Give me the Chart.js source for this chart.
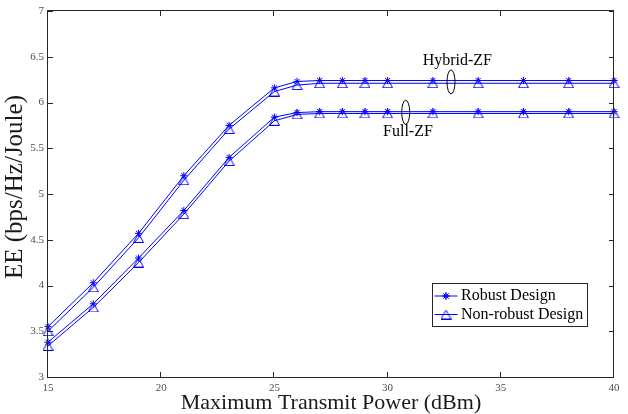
<!DOCTYPE html>
<html><head><meta charset="utf-8">
<script src="https://cdn.jsdelivr.net/npm/chart.js@4/dist/chart.umd.min.js"></script>
<style>html,body{margin:0;padding:0;background:#fff;overflow:hidden}#wrap{width:628px;height:414px}</style>
</head><body><div id="wrap"><canvas id="c" width="628" height="414"></canvas></div>
<script>
// ---- data ----
const power = [15, 17, 19, 21, 23, 25, 26, 27, 28, 29, 30, 32, 34, 36, 38, 40];
const hybridRobust    = [3.55, 4.03, 4.57, 5.20, 5.75, 6.16, 6.23, 6.24, 6.24, 6.24, 6.24, 6.24, 6.24, 6.24, 6.24, 6.24];
const hybridNonRobust = [3.50, 3.98, 4.52, 5.15, 5.71, 6.12, 6.19, 6.21, 6.21, 6.21, 6.21, 6.21, 6.21, 6.21, 6.21, 6.21];
const fullRobust      = [3.38, 3.80, 4.30, 4.82, 5.40, 5.84, 5.89, 5.90, 5.90, 5.90, 5.90, 5.90, 5.90, 5.90, 5.90, 5.90];
const fullNonRobust   = [3.34, 3.76, 4.25, 4.78, 5.36, 5.80, 5.87, 5.88, 5.88, 5.88, 5.88, 5.88, 5.88, 5.88, 5.88, 5.88];
const seriesLabels = ['Robust Design', 'Non-robust Design'];
const groupLabels = ['Hybrid-ZF', 'Full-ZF'];
const xTickValues = [15, 20, 25, 30, 35, 40];
const xTickLabels = ['15', '20', '25', '30', '35', '40'];
const yTickValues = [3, 3.5, 4, 4.5, 5, 5.5, 6, 6.5, 7];
const yTickLabels = ['3', '3.5', '4', '4.5', '5', '5.5', '6', '6.5', '7'];
const xTitle = 'Maximum Transmit Power (dBm)';
const yTitle = 'EE (bps/Hz/Joule)';

// ---- styles ----
const BLUE = '#0000ff';
const AXIS = '#262626';
const SERIF = '"Liberation Serif", "Times New Roman", serif';

function makeTriangle(w, h, color) {
  const c = document.createElement('canvas');
  c.width = w; c.height = h;
  const g = c.getContext('2d');
  g.strokeStyle = color; g.lineWidth = 1;
  g.beginPath();
  g.moveTo(w / 2, 0.5);
  g.lineTo(w - 0.5, h - 0.5);
  g.lineTo(0.5, h - 0.5);
  g.closePath();
  g.stroke();
  return c;
}
const triImg = makeTriangle(11, 10, BLUE);

function pts(arr) { return power.map((x, i) => ({ x: x, y: arr[i] })); }

function ds(label, arr, robust) {
  return {
    label: label,
    data: pts(arr),
    borderColor: BLUE,
    borderWidth: 1,
    backgroundColor: 'transparent',
    pointStyle: robust ? 'star' : triImg,
    pointRadius: robust ? 3.6 : 5,
    pointHoverRadius: robust ? 3.6 : 5,
    pointBorderColor: BLUE,
    pointBackgroundColor: 'transparent',
    pointBorderWidth: 1,
    tension: 0,
    fill: false,
    clip: false
  };
}

const framePlugin = {
  id: 'frame',
  afterDraw(chart) {
    const ctx = chart.ctx;
    const a = chart.chartArea;
    const xs = chart.scales.x, ys = chart.scales.y;
    ctx.save();
    // box
    ctx.strokeStyle = AXIS; ctx.lineWidth = 1;
    ctx.strokeRect(a.left - 0.5, a.top - 0.5, a.right - a.left, a.bottom - a.top + 1);
    // inward ticks
    ctx.beginPath();
    ys.ticks.forEach(t => {
      const py = Math.round(ys.getPixelForValue(t.value)) + 0.5;
      ctx.moveTo(a.left, py); ctx.lineTo(a.left + 5, py);
      ctx.moveTo(a.right, py); ctx.lineTo(a.right - 5, py);
    });
    xs.ticks.forEach(t => {
      const px = Math.round(xs.getPixelForValue(t.value)) - 0.5;
      ctx.moveTo(px, a.bottom); ctx.lineTo(px, a.bottom - 5);
      ctx.moveTo(px, a.top); ctx.lineTo(px, a.top + 5);
    });
    ctx.stroke();

    // y title
    ctx.fillStyle = '#1a1a1a';
    ctx.font = '25px ' + SERIF;
    ctx.textAlign = 'center'; ctx.textBaseline = 'middle';
    ctx.save();
    ctx.translate(15, (a.top + a.bottom) / 2 - 7);
    ctx.rotate(-Math.PI / 2);
    ctx.fillText(yTitle, 0, 0);
    ctx.restore();

    // group annotations (ellipses + labels), placed in data coordinates
    const ann = chart.options.plugins.frame.groups;
    ctx.strokeStyle = '#000'; ctx.fillStyle = '#000';
    ctx.font = '16px ' + SERIF;
    ann.forEach((g, i) => {
      const ex = xs.getPixelForValue(g.ex), ey = ys.getPixelForValue(g.ey);
      ctx.beginPath();
      ctx.ellipse(ex, ey, 4, 12, 0, 0, Math.PI * 2);
      ctx.stroke();
      ctx.fillText(groupLabels[i], xs.getPixelForValue(g.tx), ys.getPixelForValue(g.ty));
    });

    // legend
    const bx = a.right - 181.5, by = 283.5, bw = 155, bh = 43;
    ctx.fillStyle = '#fff';
    ctx.fillRect(bx, by, bw, bh);
    ctx.strokeStyle = AXIS; ctx.lineWidth = 1;
    ctx.strokeRect(bx, by, bw, bh);
    const rows = [by + 12.5, by + 31];
    rows.forEach((ry, i) => {
      ctx.strokeStyle = BLUE; ctx.lineWidth = 1;
      ctx.beginPath(); ctx.moveTo(bx + 2, ry); ctx.lineTo(bx + 25, ry); ctx.stroke();
      const mx = bx + 13.5;
      if (i === 0) {
        Chart.helpers.drawPoint(ctx, { pointStyle: 'star', radius: 3.6, borderWidth: 1 }, mx, ry);
        ctx.stroke();
      } else {
        ctx.drawImage(triImg, mx - triImg.width / 2, ry - triImg.height / 2);
      }
      ctx.fillStyle = '#000';
      ctx.font = '16px ' + SERIF;
      ctx.textAlign = 'left'; ctx.textBaseline = 'middle';
      ctx.fillText(seriesLabels[i], bx + 28.5, ry);
    });
    ctx.restore();
  }
};

Chart.defaults.font.family = SERIF;

new Chart(document.getElementById('c'), {
  type: 'line',
  data: {
    datasets: [
      ds(groupLabels[0] + ' ' + seriesLabels[1], hybridNonRobust, false),
      ds(groupLabels[0] + ' ' + seriesLabels[0], hybridRobust, true),
      ds(groupLabels[1] + ' ' + seriesLabels[1], fullNonRobust, false),
      ds(groupLabels[1] + ' ' + seriesLabels[0], fullRobust, true)
    ]
  },
  options: {
    responsive: false,
    animation: false,
    devicePixelRatio: 1,
    layout: { padding: { top: 11, right: 14, left: 0, bottom: 0 } },
    plugins: {
      legend: { display: false },
      tooltip: { enabled: false },
      frame: {
        groups: [
          { ex: 32.8, ey: 6.225, tx: 33.08, ty: 6.458 },
          { ex: 30.8, ey: 5.893, tx: 30.9, ty: 5.679 }
        ]
      }
    },
    scales: {
      x: {
        type: 'linear', min: 15, max: 40,
        afterBuildTicks: s => { s.ticks = xTickValues.map(v => ({ value: v })); },
        afterFit: s => { s.height = 37; },
        grid: { display: false, drawTicks: false },
        border: { display: false },
        ticks: {
          autoSkip: false, maxRotation: 0, padding: 5,
          color: '#4d4d4d', font: { size: 11, family: SERIF },
          callback: (v, i) => xTickLabels[i]
        },
        title: {
          display: true, text: xTitle, color: '#1a1a1a',
          font: { size: 22, family: SERIF, lineHeight: 1 },
          padding: { top: 0, bottom: 0 }
        }
      },
      y: {
        type: 'linear', min: 3, max: 7,
        afterBuildTicks: s => { s.ticks = yTickValues.map(v => ({ value: v })); },
        afterFit: s => { s.width = 48; },
        grid: { display: false, drawTicks: false },
        border: { display: false },
        ticks: {
          autoSkip: false, padding: 4,
          color: '#4d4d4d', font: { size: 11, family: SERIF },
          callback: (v, i) => yTickLabels[i]
        }
      }
    }
  },
  plugins: [framePlugin]
});
</script>
</body></html>
